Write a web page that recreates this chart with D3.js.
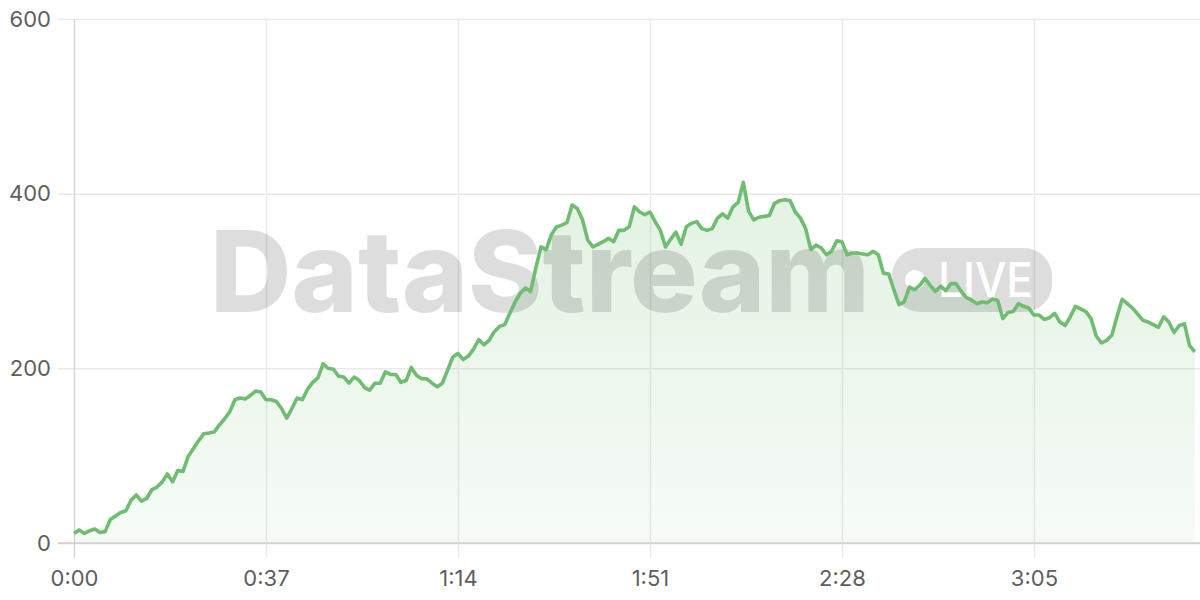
<!DOCTYPE html>
<html>
<head>
<meta charset="utf-8">
<script src="https://cdn.jsdelivr.net/npm/d3@7.9.0/dist/d3.min.js"></script>
<style>
  html, body { margin: 0; padding: 0; background: #fff; }
  svg { display: block; }
</style>
</head>
<body>
<svg id="chart" width="1200" height="600"></svg>
<script>
// viewers per second, starting at 0:00
const viewers = [
  11, 15, 11, 14, 16, 12, 13, 27, 31, 35,
  37, 49, 55, 48, 51, 61, 64, 70, 79, 70,
  83, 82, 99, 108, 117, 125, 126, 127, 135, 142,
  150, 164, 166, 165, 169, 174, 173, 164, 164, 162,
  154, 143, 154, 166, 164, 176, 184, 189, 205, 200,
  199, 191, 190, 183, 190, 186, 178, 175, 183, 183,
  196, 193, 193, 184, 186, 201, 192, 188, 188, 183,
  179, 183, 198, 213, 217, 210, 214, 222, 233, 227,
  232, 242, 248, 250, 263, 276, 286, 292, 288, 315,
  339, 336, 353, 362, 364, 367, 387, 383, 370, 347,
  339, 342, 345, 349, 345, 358, 358, 362, 385, 379,
  376, 379, 368, 358, 339, 348, 356, 342, 362, 366,
  368, 360, 358, 360, 372, 377, 372, 385, 390, 413,
  380, 370, 373, 374, 375, 389, 392, 393, 392, 379,
  372, 360, 336, 341, 338, 330, 334, 346, 345, 330,
  332, 332, 331, 330, 334, 330, 309, 308, 290, 273,
  276, 293, 290, 295, 303, 295, 288, 294, 289, 297,
  297, 288, 281, 278, 274, 276, 275, 279, 278, 257,
  264, 265, 274, 271, 269, 261, 261, 256, 258, 263,
  253, 249, 259, 271, 268, 265, 257, 237, 229, 232,
  238, 259, 279, 274, 269, 262, 255, 253, 250, 247,
  259, 253, 241, 249, 251, 226, 219
];
const timeTicks = [0, 37, 74, 111, 148, 185];
const valueTicks = [0, 200, 400, 600];
const timeDomain = [0, 217];
const valueDomain = [0, 600];

const svg = d3.select('#chart');
const plotLeft = 74, plotRight = 1200, plotTop = 19, plotBottom = 543;

const x = d3.scaleLinear().domain(timeDomain).range([plotLeft, plotRight]);
const y = d3.scaleLinear().domain(valueDomain).range([plotBottom, plotTop]);

const fmt = (s) => `${Math.floor(s / 60)}:${String(s % 60).padStart(2, '0')}`;

const defs = svg.append('defs');
const grad = defs.append('linearGradient')
  .attr('id', 'fillGrad')
  .attr('gradientUnits', 'userSpaceOnUse')
  .attr('x1', 0).attr('x2', 0)
  .attr('y1', y(420)).attr('y2', plotBottom);
grad.append('stop').attr('offset', 0).attr('stop-color', '#6fbd71').attr('stop-opacity', 0.2);
grad.append('stop').attr('offset', 1).attr('stop-color', '#6fbd71').attr('stop-opacity', 0.06);

// horizontal grid + y labels
const yAxis = d3.axisLeft(y).tickValues(valueTicks).tickSize(16).tickPadding(7);
const gy = svg.append('g').attr('transform', `translate(${plotLeft},0)`).call(yAxis);
gy.select('.domain').remove();
gy.selectAll('.tick line')
  .attr('x2', plotRight - plotLeft)
  .attr('x1', -16)
  .attr('stroke', (d) => (d === 0 ? '#d2d2d2' : '#e9e9e9'))
  .attr('stroke-width', 1.5);
gy.selectAll('.tick text')
  .attr('x', -23)
  .attr('font-family', 'Inter, "Liberation Sans", sans-serif')
  .attr('font-size', 22)
  .attr('fill', '#5e5e5e');

// vertical grid + x labels
const xAxis = d3.axisBottom(x).tickValues(timeTicks).tickFormat(fmt).tickSize(15).tickPadding(12);
const gx = svg.append('g').attr('transform', `translate(0,${plotBottom})`).call(xAxis);
gx.select('.domain').remove();
gx.selectAll('.tick line')
  .attr('y1', plotTop - plotBottom)
  .attr('y2', 15)
  .attr('stroke', (d) => (d === 0 ? '#d6d6d6' : '#eaeaea'))
  .attr('stroke-width', 1.5);
gx.selectAll('.tick text')
  .attr('font-family', 'Inter, "Liberation Sans", sans-serif')
  .attr('font-size', 22)
  .attr('fill', '#5e5e5e');

// area
const area = d3.area()
  .x((d, i) => x(i))
  .y0(y(0))
  .y1((d) => y(d));
svg.append('path')
  .datum(viewers)
  .attr('d', area)
  .attr('fill', 'url(#fillGrad)');

// baseline
svg.append('line')
  .attr('x1', plotLeft - 16).attr('x2', plotRight)
  .attr('y1', y(0)).attr('y2', y(0))
  .attr('stroke', '#d2d2d2').attr('stroke-width', 1.5);

// watermark
const wm = svg.append('g').attr('pointer-events', 'none');
wm.append('text')
  .attr('x', 210).attr('y', 312)
  .attr('textLength', 660)
  .attr('lengthAdjust', 'spacingAndGlyphs')
  .attr('font-family', 'Inter, "Liberation Sans", sans-serif')
  .attr('font-weight', 800)
  .attr('font-size', 113)
  .attr('fill', '#000')
  .attr('fill-opacity', 0.135)
  .text('DataStream');
wm.append('rect')
  .attr('x', 892).attr('y', 248)
  .attr('width', 160).attr('height', 64)
  .attr('rx', 28)
  .attr('fill', '#000')
  .attr('fill-opacity', 0.135);
wm.append('circle')
  .attr('cx', 915).attr('cy', 280).attr('r', 10)
  .attr('fill', '#fff');
wm.append('text')
  .attr('x', 938).attr('y', 297)
  .attr('textLength', 95)
  .attr('lengthAdjust', 'spacingAndGlyphs')
  .attr('font-family', 'Inter, "Liberation Sans", sans-serif')
  .attr('font-weight', 500)
  .attr('font-size', 48)
  .attr('fill', '#fff')
  .text('LIVE');

// line
const line = d3.line()
  .x((d, i) => x(i))
  .y((d) => y(d));
svg.append('path')
  .datum(viewers)
  .attr('d', line)
  .attr('fill', 'none')
  .attr('stroke', '#6fbd71')
  .attr('stroke-width', 3.6)
  .attr('stroke-linejoin', 'round');
</script>
</body>
</html>
